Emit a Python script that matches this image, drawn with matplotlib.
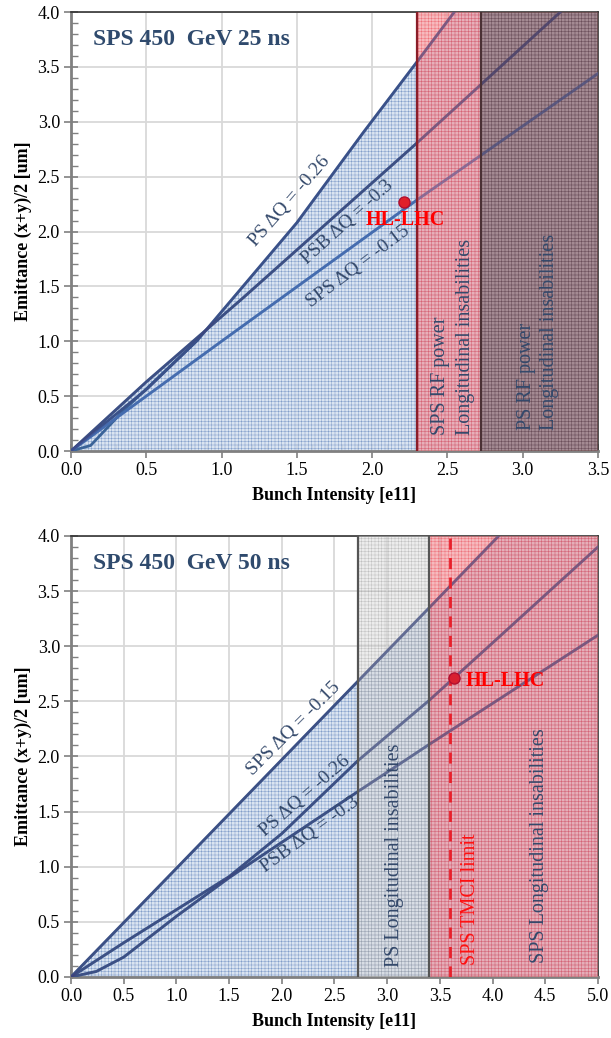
import numpy as np
import matplotlib
matplotlib.use('Agg')
import matplotlib.pyplot as plt
from matplotlib.ticker import MultipleLocator

plt.rcParams['font.family'] = ['Liberation Serif', 'DejaVu Serif']
plt.rcParams['hatch.linewidth'] = 0.35

# ---- 25 ns data (top) ----
ps25_x = [0.0, 0.5, 0.84, 1.5, 1.94, 2.3, 2.6]
ps25_y = [0.0, 0.56, 1.01, 2.08, 2.90, 3.55, 4.10]
psb25_x = [0.0, 0.5, 1.13, 2.3, 3.25, 3.5]
psb25_y = [0.0, 0.63, 1.38, 2.81, 4.00, 4.31]
kink25_x = [0.0, 0.13, 0.35, 0.84]
kink25_y = [0.0, 0.05, 0.37, 1.01]
sps25_x = [0.0, 1.0, 2.3, 3.5]
sps25_y = [0.0, 1.0, 2.29, 3.44]
hl25 = (2.21, 2.27)
limits25 = [2.3, 2.72, 3.5]

# ---- 50 ns data (bottom) ----
sps50_x = [0.0, 1.0, 2.72, 3.4, 5.0]
sps50_y = [0.0, 0.985, 2.68, 3.35, 4.93]
ps50_x = [0.0, 0.5, 1.0, 1.5, 2.0, 2.72, 3.4, 4.0, 5.0]
ps50_y = [0.0, 0.31, 0.61, 0.91, 1.30, 1.96, 2.51, 3.03, 3.90]
psb50_x = [0.0, 0.24, 0.5, 1.0, 1.5, 1.7, 2.72, 3.4, 5.0]
psb50_y = [0.0, 0.05, 0.18, 0.55, 0.90, 1.03, 1.68, 2.11, 3.10]
hl50 = (3.63, 2.71)
limits50 = [2.72, 3.4, 5.0]
tmci50 = 3.6

title_col = '#2f4a6d'
text_col = '#34496b'
line_col = '#3c6190'
fill_blue = '#d6e1f0'
hatch_blue = '#7896c6'

fig = plt.figure(figsize=(6.11, 10.38), dpi=100)
ax1 = fig.add_axes([0.1162, 0.5655, 0.8625, 0.4229])
ax2 = fig.add_axes([0.1162, 0.0588, 0.8625, 0.4249])


def style_axes(ax, xmax):
    ax.set_xlim(0, xmax)
    ax.set_ylim(0, 4.0)
    ax.xaxis.set_major_locator(MultipleLocator(0.5))
    ax.xaxis.set_minor_locator(MultipleLocator(0.1))
    ax.yaxis.set_major_locator(MultipleLocator(0.5))
    ax.yaxis.set_minor_locator(MultipleLocator(0.1))
    ax.xaxis.set_major_formatter(matplotlib.ticker.FormatStrFormatter('%.1f'))
    ax.yaxis.set_major_formatter(matplotlib.ticker.FormatStrFormatter('%.1f'))
    ax.grid(True, which='major', color='#d9d9d9', linewidth=1.3, zorder=0)
    ax.set_axisbelow(True)
    ax.tick_params(which='major', direction='inout', length=10, width=1.2,
                   color='#808080', labelsize=13, pad=3)
    ax.tick_params(which='minor', direction='in', length=5, width=1,
                   color='#808080')
    for s in ['left', 'bottom']:
        ax.spines[s].set_color('#808080')
        ax.spines[s].set_linewidth(2)
    for s in ['top', 'right']:
        ax.spines[s].set_color('#333333')
        ax.spines[s].set_linewidth(1.2)
    ax.set_xlabel('Bunch Intensity [e11]', fontsize=13, fontweight='bold', labelpad=6)
    ax.set_ylabel('Emittance (x+y)/2 [um]', fontsize=13, fontweight='bold', labelpad=4)


def blue_area(ax, xmax, lines):
    xs = np.linspace(0, xmax, 600)
    env = np.max([np.interp(xs, lx, ly) for lx, ly in lines], axis=0)
    ax.fill_between(xs, 0, env, facecolor=fill_blue, edgecolor=hatch_blue,
                    hatch='+++++', linewidth=0, alpha=0.9, zorder=1)


def draw_line(ax, x, y, col):
    ax.plot(x, y, color=col, lw=2, zorder=3)
    # faint copy above the limit bands so the lines stay visible there
    ax.plot(x, y, color='#3c3c78', lw=2, alpha=0.45, zorder=4.5)


# ---------------- top chart ----------------
style_axes(ax1, 3.5)
blue_area(ax1, 3.5, [(ps25_x, ps25_y), (psb25_x, psb25_y), (sps25_x, sps25_y)])
draw_line(ax1, ps25_x, ps25_y, '#3a6398')
draw_line(ax1, psb25_x, psb25_y, '#3c5f8e')
ax1.plot(kink25_x, kink25_y, color='#3a6398', lw=2, zorder=3)
ax1.plot(sps25_x, sps25_y, color='#4a7ec0', lw=2, zorder=3)
ax1.plot(sps25_x, sps25_y, color='#3c4c90', lw=2, alpha=0.35, zorder=4.5)

ax1.axvspan(limits25[0], limits25[1], facecolor='#f28c94', edgecolor='#e8404c',
            hatch='+++++', linewidth=0, alpha=0.6, zorder=4)
ax1.axvspan(limits25[1], limits25[2], facecolor='#845458', edgecolor='#5e3a3e',
            hatch='+++++', linewidth=0, alpha=0.62, zorder=4)
ax1.axvline(limits25[0], color='#8a1e28', lw=1.6, zorder=5)
ax1.axvline(limits25[1], color='#4a3034', lw=1.6, zorder=5)

ax1.plot(*hl25, 'o', color='#e0202a', markeredgecolor='#b01030', ms=8, zorder=6)
ax1.text(2.218, 2.105, 'HL-LHC', color='#ff0000', fontsize=14.5, fontweight='bold',
         ha='center', va='center', zorder=7)

ax1.text(1.455, 2.28, 'PS ΔQ = -0.26', rotation=49, fontsize=14, color=text_col,
         ha='center', va='center', zorder=7)
ax1.text(1.836, 2.08, 'PSB ΔQ = -0.3', rotation=42, fontsize=14, color=text_col,
         ha='center', va='center', zorder=7)
ax1.text(1.906, 1.68, 'SPS ΔQ = -0.15', rotation=37, fontsize=14, color=text_col,
         ha='center', va='center', zorder=7)

ax1.text(2.451, 0.146, 'SPS RF power', rotation=90, fontsize=14.5, color=text_col,
         ha='center', va='bottom', zorder=7)
ax1.text(2.617, 0.146, 'Longitudinal insabilities', rotation=90, fontsize=14.5,
         color=text_col, ha='center', va='bottom', zorder=7)
ax1.text(3.027, 0.19, 'PS RF power', rotation=90, fontsize=14.5, color=text_col,
         ha='center', va='bottom', zorder=7)
ax1.text(3.18, 0.19, 'Longitudinal insabilities', rotation=90, fontsize=14.5,
         color=text_col, ha='center', va='bottom', zorder=7)

ax1.text(0.041, 0.9385, 'SPS 450  GeV 25 ns', transform=ax1.transAxes, fontsize=17,
         fontweight='bold', color=title_col, ha='left', va='center', zorder=7)

# ---------------- bottom chart ----------------
style_axes(ax2, 5.0)
blue_area(ax2, 5.0, [(sps50_x, sps50_y), (ps50_x, ps50_y), (psb50_x, psb50_y)])
draw_line(ax2, sps50_x, sps50_y, line_col)
draw_line(ax2, ps50_x, ps50_y, line_col)
draw_line(ax2, psb50_x, psb50_y, line_col)

ax2.axvspan(limits50[0], limits50[1], facecolor='#d6d6d6', edgecolor='#8a8a8a',
            hatch='+++++', linewidth=0, alpha=0.45, zorder=4)
ax2.axvspan(limits50[1], limits50[2], facecolor='#f08890', edgecolor='#e8404c',
            hatch='+++++', linewidth=0, alpha=0.58, zorder=4)
ax2.axvline(limits50[0], color='#555555', lw=1.6, zorder=5)
ax2.axvline(limits50[1], color='#555555', lw=1.6, zorder=5)
ax2.axvline(tmci50, color='#e8202a', lw=2, ls=(0, (4, 3)), zorder=6)

ax2.plot(*hl50, 'o', color='#d82030', markeredgecolor='#b01030', ms=8, zorder=6)
ax2.text(3.745, 2.68, 'HL-LHC', color='#ff0000', fontsize=14.5, fontweight='bold',
         ha='left', va='center', zorder=7)

ax2.text(2.11, 2.25, 'SPS ΔQ = -0.15', rotation=45, fontsize=14, color=text_col,
         ha='center', va='center', zorder=7)
ax2.text(2.22, 1.64, 'PS ΔQ = -0.26', rotation=41, fontsize=14, color=text_col,
         ha='center', va='center', zorder=7)
ax2.text(2.27, 1.29, 'PSB ΔQ = -0.3', rotation=36, fontsize=14, color=text_col,
         ha='center', va='center', zorder=7)

ax2.text(3.067, 0.093, 'PS Longitudinal insabilities', rotation=90, fontsize=14.5,
         color=text_col, ha='center', va='bottom', zorder=7)
ax2.text(3.792, 0.109, 'SPS TMCI limit', rotation=90, fontsize=14.5,
         color='#ff1010', ha='center', va='bottom', zorder=7)
ax2.text(4.443, 0.13, 'SPS Longitudinal insabilities', rotation=90, fontsize=14.5,
         color=text_col, ha='center', va='bottom', zorder=7)

ax2.text(0.041, 0.938, 'SPS 450  GeV 50 ns', transform=ax2.transAxes, fontsize=17,
         fontweight='bold', color=title_col, ha='left', va='center', zorder=7)

fig.savefig('out.png', dpi=100)
